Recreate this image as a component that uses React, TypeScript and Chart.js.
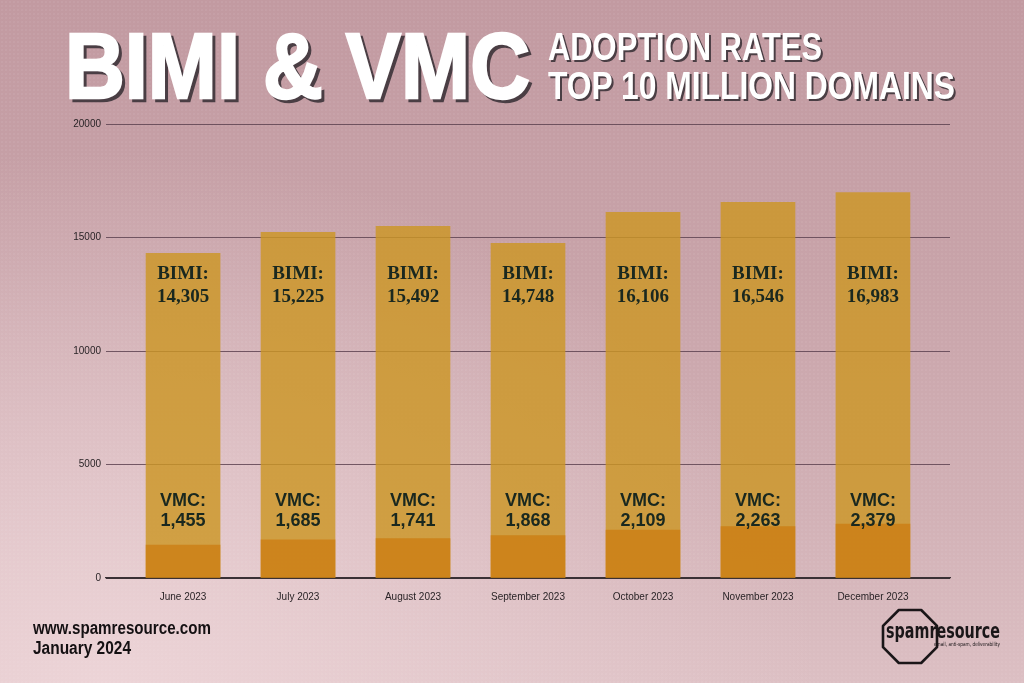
import React, { useEffect, useRef } from 'react';
import { Chart, registerables } from 'chart.js';

Chart.register(...registerables);

const MONTHS = ['June 2023', 'July 2023', 'August 2023', 'September 2023', 'October 2023', 'November 2023', 'December 2023'];
const BIMI = [14305, 15225, 15492, 14748, 16106, 16546, 16983];
const VMC = [1455, 1685, 1741, 1868, 2109, 2263, 2379];
const Y_TICKS = [0, 5000, 10000, 15000, 20000];
const Y_MAX = 20000;
const BIMI_LABEL_AT = 12900;
const VMC_LABEL_AT = 2930;

const NARROW = "'Liberation Sans Narrow', 'Liberation Sans', Arial, sans-serif";

export default function App() {
  const ref = useRef<HTMLCanvasElement>(null);

  useEffect(() => {
    if (!ref.current) return;
    const labelPlugin = {
      id: 'barLabels',
      afterDatasetsDraw(chart: any) {
        const { ctx } = chart;
        const x = chart.scales.x;
        const y = chart.scales.y;
        ctx.save();
        ctx.textAlign = 'center';
        ctx.textBaseline = 'middle';
        ctx.fillStyle = '#1a281f';
        MONTHS.forEach((_, i) => {
          const cx = x.getPixelForValue(i);
          const yb = y.getPixelForValue(BIMI_LABEL_AT);
          ctx.font = 'bold 19px "Liberation Serif", "DejaVu Serif", serif';
          ctx.fillText('BIMI:', cx, yb - 11.5);
          ctx.fillText(BIMI[i].toLocaleString('en-US'), cx, yb + 11.5);
          const yv = y.getPixelForValue(VMC_LABEL_AT);
          ctx.font = 'bold 18px "Liberation Sans", Arial, sans-serif';
          ctx.fillText('VMC:', cx, yv - 10);
          ctx.fillText(VMC[i].toLocaleString('en-US'), cx, yv + 10);
        });
        ctx.restore();
      },
    };

    const chart = new Chart(ref.current, {
      type: 'bar',
      data: {
        datasets: [
          {
            label: 'VMC',
            data: VMC.map((v, i) => ({ x: i, y: v })),
            backgroundColor: 'rgba(204,122,14,0.72)',
            grouped: false,
            barThickness: 74,
            order: 0,
          } as any,
          {
            label: 'BIMI',
            data: BIMI.map((v, i) => ({ x: i, y: v })),
            backgroundColor: 'rgba(204,150,36,0.82)',
            grouped: false,
            barThickness: 74,
            order: 1,
          } as any,
        ],
      },
      options: {
        responsive: false,
        animation: false,
        layout: { padding: { top: 124, right: 74, left: 0, bottom: 0 } },
        plugins: { legend: { display: false }, tooltip: { enabled: false } },
        scales: {
          x: {
            type: 'linear',
            offset: false,
            min: -0.67,
            max: 6.67,
            afterBuildTicks: (s: any) => {
              s.ticks = MONTHS.map((_, i) => ({ value: i }));
            },
            afterFit: (s: any) => {
              s.height = 105;
            },
            ticks: {
              callback: (v: any) => MONTHS[v] ?? '',
              font: { family: "'Liberation Sans', Arial, sans-serif", size: 10 },
              color: '#2a2427',
              padding: 5,
              maxRotation: 0,
              autoSkip: false,
            },
            grid: { display: false },
            border: { display: true, color: '#3a3035', width: 1.2 },
          },
          y: {
            min: 0,
            max: Y_MAX,
            afterBuildTicks: (s: any) => {
              s.ticks = Y_TICKS.map((v) => ({ value: v }));
            },
            afterFit: (s: any) => {
              s.width = 106;
            },
            ticks: {
              callback: (v: any) => String(v),
              font: { family: "'Liberation Sans', Arial, sans-serif", size: 10 },
              color: '#2a2427',
              padding: 5,
            },
            grid: {
              color: (c: any) => (c.tick && c.tick.value === 0 ? '#3a3035' : 'rgba(95,68,82,0.85)'),
              drawTicks: false,
            },
            border: { display: false },
          },
        },
      } as any,
      plugins: [labelPlugin],
    });
    return () => chart.destroy();
  }, []);

  const octagon = '898.8,610 921.2,610 937,625.8 937,647.2 921.2,663 898.8,663 883,647.2 883,625.8';

  return (
    <div
      style={{
        position: 'fixed',
        left: 0,
        top: 0,
        width: 1024,
        height: 683,
        overflow: 'hidden',
        backgroundColor: '#cba7ad',
        backgroundImage:
          'radial-gradient(rgba(255,255,255,0.05) 1px, transparent 1.6px), radial-gradient(ellipse at 10% 100%, rgba(238,214,217,0.9) 0%, rgba(238,214,217,0) 55%), linear-gradient(to bottom, #c29aa1 0%, #c8a3a9 40%, #d2b1b6 75%, #dcbfc3 100%)',
        backgroundSize: '4px 4px, 100% 100%, 100% 100%',
      }}
    >
      <canvas ref={ref} width={1024} height={683} style={{ position: 'absolute', left: 0, top: 0, display: 'block' }} />
      <svg width={1024} height={683} style={{ position: 'absolute', left: 0, top: 0, pointerEvents: 'none' }}>
        <g fontFamily={NARROW} fontWeight="bold">
          <text x={68} y={101} fontSize={92} fill="#4a3e44" stroke="#4a3e44" strokeWidth={2.5} textLength={465} lengthAdjust="spacingAndGlyphs">
            {'BIMI & VMC'}
          </text>
          <text x={65} y={98} fontSize={92} fill="#ffffff" stroke="#ffffff" strokeWidth={2.5} textLength={465} lengthAdjust="spacingAndGlyphs">
            {'BIMI & VMC'}
          </text>
          <text x={550} y={62} fontSize={39} fill="#4a3e44" textLength={274} lengthAdjust="spacingAndGlyphs">
            ADOPTION RATES
          </text>
          <text x={548} y={60} fontSize={39} fill="#ffffff" textLength={274} lengthAdjust="spacingAndGlyphs">
            ADOPTION RATES
          </text>
          <text x={550} y={101} fontSize={39} fill="#4a3e44" textLength={407} lengthAdjust="spacingAndGlyphs">
            TOP 10 MILLION DOMAINS
          </text>
          <text x={548} y={99} fontSize={39} fill="#ffffff" textLength={407} lengthAdjust="spacingAndGlyphs">
            TOP 10 MILLION DOMAINS
          </text>
          <text x={33} y={634} fontSize={18} fill="#141012" textLength={178} lengthAdjust="spacingAndGlyphs">
            www.spamresource.com
          </text>
          <text x={33} y={654} fontSize={18} fill="#141012" textLength={98} lengthAdjust="spacingAndGlyphs">
            January 2024
          </text>
        </g>
        <polygon points={octagon} fill="none" stroke="#1a1618" strokeWidth={2.6} strokeLinejoin="round" />
        <text x={886} y={638} fontSize={21} fontWeight={600} fontFamily="'DejaVu Sans', sans-serif" fill="#1a1618" textLength={114} lengthAdjust="spacingAndGlyphs">
          spamresource
        </text>
        <text x={934} y={646} fontSize={5.5} fontFamily="'DejaVu Sans', sans-serif" fill="#1a1618" textLength={66} lengthAdjust="spacingAndGlyphs">
          email, anti-spam, deliverability
        </text>
      </svg>
    </div>
  );
}
